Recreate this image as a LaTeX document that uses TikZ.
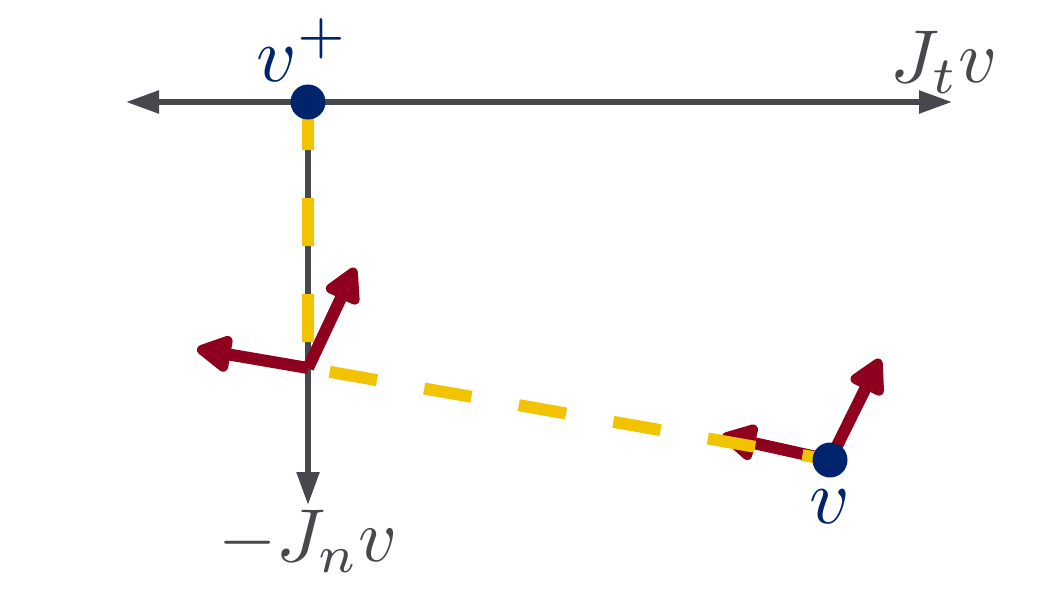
\documentclass[tikz,border=0pt]{standalone}
\usetikzlibrary{arrows.meta}
\definecolor{axisgray}{HTML}{47484D}
\definecolor{navy}{HTML}{00246B}
\definecolor{darkred}{HTML}{8E001E}
\definecolor{gold}{HTML}{F2C300}
\begin{document}
\begin{tikzpicture}[x=1pt,y=-1pt,
  axis/.style={draw=axisgray,line width=5.5pt,-{Triangle[length=33pt,width=22pt]}},
  redarrow/.style={draw=darkred,line width=12pt,line join=round,-{Triangle[length=40pt,width=40pt,round]}},
  yellowdash/.style={draw=gold,line width=12pt,dash pattern=on 48pt off 48pt},
  dot/.style={circle,fill=navy,inner sep=0pt,minimum size=35pt},
  bluelabel/.style={text=navy,scale=7.8,inner sep=0pt},
  graylabel/.style={text=axisgray,scale=7.5,inner sep=0pt}]
\useasboundingbox (0,0) rectangle (1042,613);
\coordinate (vp) at (308,102);
\coordinate (c) at (308,368);
\coordinate (v) at (830,460);
\coordinate (tR) at (952,102);
\coordinate (tL) at (126,102);
\coordinate (nD) at (308,505);
\coordinate (c1) at (197,349);
\coordinate (c2) at (355,268);
\coordinate (v1) at (722,436);
\coordinate (v2) at (880,359);
% axes
\draw[axis] (vp) -- (tR);
\draw[axis] (vp) -- (tL);
\draw[axis] (vp) -- (nD);
% red arrows
\draw[redarrow] (c) -- (c1);
\draw[redarrow] (c) -- (c2);
\draw[redarrow] (v) -- (v1);
\draw[redarrow] (v) -- (v2);
% yellow dashed path
\draw[yellowdash] (vp) -- (c) -- (v);
% dots
\node[dot] (vpdot) at (vp) {};
\node[dot] (vdot) at (v) {};
% labels
\node[bluelabel] (lvp) at (303,50) {$v^+$};
\node[bluelabel] (lv) at (830,507) {$v$};
\node[graylabel] (lt) at (944,62) {$J_tv$};
\node[graylabel] (ln) at (308,541) {$-J_nv$};
\end{tikzpicture}
\end{document}
